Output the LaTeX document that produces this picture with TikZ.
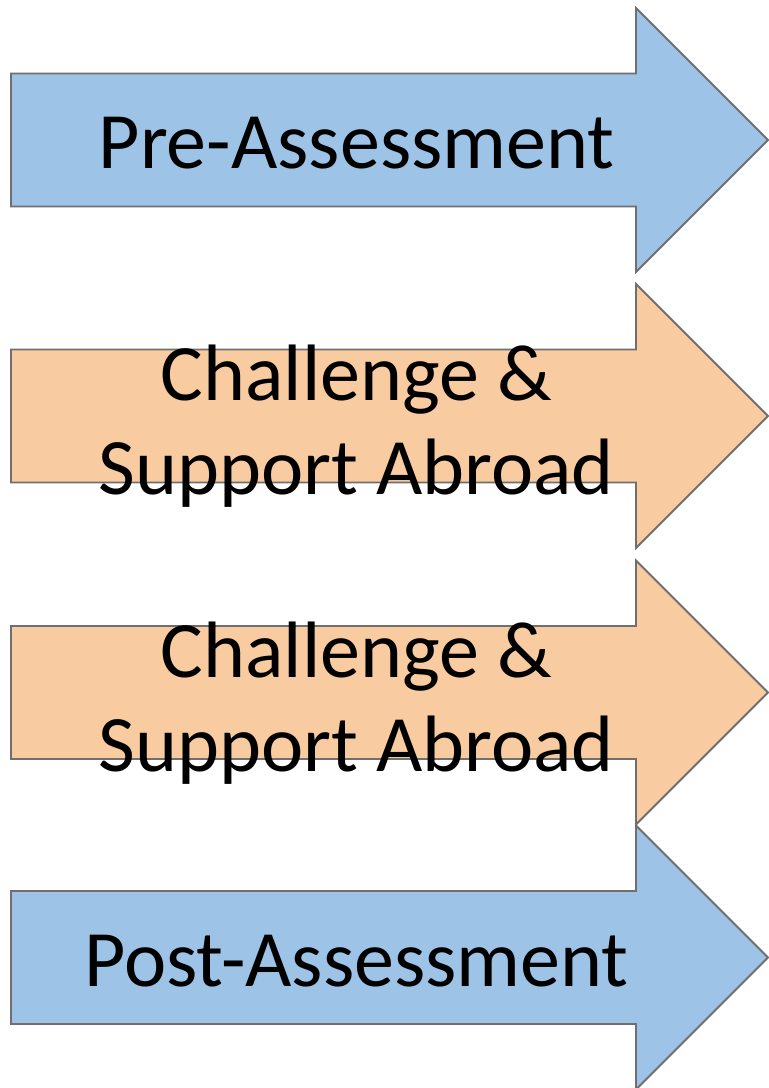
\documentclass[tikz,border=0pt]{standalone}
\usepackage{fontspec}
\setmainfont{Carlito}
\usetikzlibrary{positioning}
\definecolor{stepblue}{HTML}{9DC3E6}
\definecolor{steporange}{HTML}{F8CBA0}
\definecolor{stepline}{HTML}{6F6F6F}
\tikzset{
	phasearrow/.style={draw=stepline, line width=1.8pt, line join=miter},
	phasetext/.style={font=\fontsize{80}{94}\selectfont, align=center, inner sep=0pt, text=black}
}
\begin{document}
\begin{tikzpicture}[x=1pt,y=-1pt]
	\useasboundingbox (0,0) rectangle (769,1088);
	% arrows, top to bottom
	\draw[phasearrow,fill=stepblue](11,73.5)--(636,73.5)--(636,8)--(768,140)--(636,272)--(636,206.5)--(11,206.5)--cycle;
	\draw[phasearrow,fill=steporange](11,349.5)--(636,349.5)--(636,284)--(768,416)--(636,548)--(636,482.5)--(11,482.5)--cycle;
	\draw[phasearrow,fill=steporange](11,626)--(636,626)--(636,560.5)--(768,692.5)--(636,824.5)--(636,759)--(11,759)--cycle;
	\draw[phasearrow,fill=stepblue](11,891)--(636,891)--(636,825.5)--(768,957.5)--(636,1089.5)--(636,1024)--(11,1024)--cycle;
	% labels
	\node[phasetext](pre)at(356.5,143){Pre-Assessment};
	\node[phasetext](chal1)at(356.5,426.5){Challenge \&\\Support Abroad};
	\node[phasetext](chal2)at(356.5,703){Challenge \&\\Support Abroad};
	\node[phasetext](post)at(356.5,961){Post-Assessment};
\end{tikzpicture}
\end{document}
